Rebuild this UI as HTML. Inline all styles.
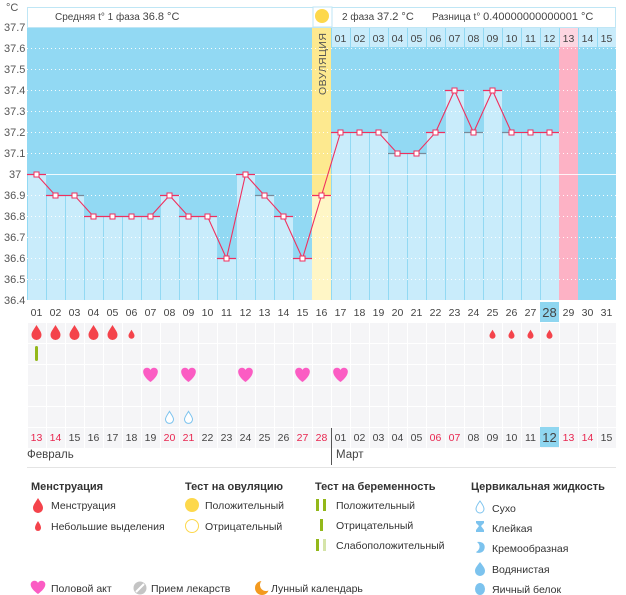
<!DOCTYPE html>
<html><head><meta charset="utf-8"><style>
html,body{margin:0;padding:0;background:#fff;}
svg{display:block;font-family:"Liberation Sans","DejaVu Sans",sans-serif;}
.ax{font-size:11px;fill:#555;}
.d{font-size:10.5px;fill:#444;text-anchor:middle;}
.r{fill:#e8264f;}
.h{font-size:11px;font-weight:bold;fill:#333;}
.l{font-size:10.5px;fill:#333;}
</style></head><body>
<svg id="s" width="626" height="595" viewBox="0 0 626 595" xmlns="http://www.w3.org/2000/svg">
<g id="bg"></g>
<rect x="27.5" y="7.5" width="588" height="20" fill="#fff" stroke="#bfe6f5"/>
<text x="55" y="20" font-size="10" fill="#444">Средняя t° 1 фаза <tspan font-size="11">36.8 °C</tspan></text>
<text x="342" y="20" font-size="10" fill="#444">2 фаза <tspan font-size="11">37.2 °C</tspan></text>
<text x="432" y="20" font-size="10" fill="#444">Разница t° <tspan font-size="11">0.40000000000001 °C</tspan></text>
<rect x="313" y="7" width="19" height="20" fill="#fff" stroke="#bfe6f5"/>
<circle cx="322" cy="16" r="7" fill="#fdd84c"/>
<text class="ax" x="6" y="11">°C</text>
<g class="ax">
<text x="4" y="31">37.7</text><text x="4" y="52">37.6</text><text x="4" y="73">37.5</text><text x="4" y="94">37.4</text><text x="4" y="115">37.3</text><text x="4" y="136">37.2</text><text x="4" y="157">37.1</text><text x="9" y="178">37</text><text x="4" y="199">36.9</text><text x="4" y="220">36.8</text><text x="4" y="241">36.7</text><text x="4" y="262">36.6</text><text x="4" y="283">36.5</text><text x="4" y="304">36.4</text>
</g>
<text transform="translate(326,95) rotate(-90)" font-size="10.5" fill="#555" letter-spacing="0.5">ОВУЛЯЦИЯ</text>
<g class="d">
<text x="340.5" y="42">01</text><text x="359.5" y="42">02</text><text x="378.5" y="42">03</text><text x="397.5" y="42">04</text><text x="416.5" y="42">05</text><text x="435.5" y="42">06</text><text x="454.5" y="42">07</text><text x="473.5" y="42">08</text><text x="492.5" y="42">09</text><text x="511.5" y="42">10</text><text x="530.5" y="42">11</text><text x="549.5" y="42">12</text><text x="568.5" y="42">13</text><text x="587.5" y="42">14</text><text x="606.5" y="42">15</text>
</g>
<g id="fg"></g>
<rect x="540" y="302" width="19" height="20" fill="#8fd6f0"/>
<rect x="540" y="427" width="19" height="20" fill="#8fd6f0"/>
<g class="d">
<text x="36.5" y="316">01</text><text x="55.5" y="316">02</text><text x="74.5" y="316">03</text><text x="93.5" y="316">04</text><text x="112.5" y="316">05</text><text x="131.5" y="316">06</text><text x="150.5" y="316">07</text><text x="169.5" y="316">08</text><text x="188.5" y="316">09</text><text x="207.5" y="316">10</text><text x="226.5" y="316">11</text><text x="245.5" y="316">12</text><text x="264.5" y="316">13</text><text x="283.5" y="316">14</text><text x="302.5" y="316">15</text><text x="321.5" y="316">16</text><text x="340.5" y="316">17</text><text x="359.5" y="316">18</text><text x="378.5" y="316">19</text><text x="397.5" y="316">20</text><text x="416.5" y="316">21</text><text x="435.5" y="316">22</text><text x="454.5" y="316">23</text><text x="473.5" y="316">24</text><text x="492.5" y="316">25</text><text x="511.5" y="316">26</text><text x="530.5" y="316">27</text><text x="549.5" y="317" font-size="13">28</text><text x="568.5" y="316">29</text><text x="587.5" y="316">30</text><text x="606.5" y="316">31</text>
<text class="r" x="36.5" y="441">13</text><text class="r" x="55.5" y="441">14</text><text x="74.5" y="441">15</text><text x="93.5" y="441">16</text><text x="112.5" y="441">17</text><text x="131.5" y="441">18</text><text x="150.5" y="441">19</text><text class="r" x="169.5" y="441">20</text><text class="r" x="188.5" y="441">21</text><text x="207.5" y="441">22</text><text x="226.5" y="441">23</text><text x="245.5" y="441">24</text><text x="264.5" y="441">25</text><text x="283.5" y="441">26</text><text class="r" x="302.5" y="441">27</text><text class="r" x="321.5" y="441">28</text><text x="340.5" y="441">01</text><text x="359.5" y="441">02</text><text x="378.5" y="441">03</text><text x="397.5" y="441">04</text><text x="416.5" y="441">05</text><text class="r" x="435.5" y="441">06</text><text class="r" x="454.5" y="441">07</text><text x="473.5" y="441">08</text><text x="492.5" y="441">09</text><text x="511.5" y="441">10</text><text x="530.5" y="441">11</text><text x="549.5" y="442" font-size="13">12</text><text class="r" x="568.5" y="441">13</text><text class="r" x="587.5" y="441">14</text><text x="606.5" y="441">15</text>
</g>
<line x1="331.5" y1="428" x2="331.5" y2="465" stroke="#555"/>
<line x1="27" y1="467.5" x2="616" y2="467.5" stroke="#e4e4e4"/>
<text x="27" y="458" font-size="11.5" fill="#444">Февраль</text>
<text x="336" y="458" font-size="11.5" fill="#444">Март</text>

<text class="h" x="31" y="490">Менструация</text>
<text class="h" x="185" y="490">Тест на овуляцию</text>
<text class="h" x="315" y="490">Тест на беременность</text>
<text class="h" x="471" y="490">Цервикальная жидкость</text>
<path d="M38,498 C41,503 43,505 43,508 A5,5 0 0 1 33,508 C33,505 35,503 38,498Z" fill="#f4434b"/>
<text class="l" x="51" y="509">Менструация</text>
<path d="M38,521 C40,524 41,526 41,528 A3,3 0 0 1 35,528 C35,526 36,524 38,521Z" fill="#f4434b"/>
<text class="l" x="51" y="530">Небольшие выделения</text>
<circle cx="192" cy="505" r="7" fill="#fdd84c"/>
<text class="l" x="205" y="509">Положительный</text>
<circle cx="192" cy="526" r="6.5" fill="#fff" stroke="#fdd84c"/>
<text class="l" x="205" y="530">Отрицательный</text>
<rect x="316" y="499" width="3" height="12" fill="#93b81a"/><rect x="323" y="499" width="3" height="12" fill="#93b81a"/>
<text class="l" x="336" y="509">Положительный</text>
<rect x="320" y="519" width="3" height="12" fill="#93b81a"/>
<text class="l" x="336" y="529">Отрицательный</text>
<rect x="316" y="539" width="3" height="12" fill="#93b81a"/><rect x="323" y="539" width="3" height="12" fill="#d5e4a9"/>
<text class="l" x="336" y="549">Слабоположительный</text>
<path d="M480,501 C483,505 484,507 484,509 A4,4 0 0 1 476,509 C476,507 477,505 480,501Z" fill="#fff" stroke="#7cc3ee"/>
<text class="l" x="492" y="512">Сухо</text>
<path d="M476,521 L484,521 L484,523 L481,526 L484,530 L484,532 L476,532 L476,530 L479,526 L476,523Z" fill="#7cc3ee"/>
<text class="l" x="492" y="532">Клейкая</text>
<path d="M477,542 C484,541 486,546 484,550 C482,554 476,553 476,552 C480,550 481,545 477,542Z" fill="#7cc3ee"/>
<text class="l" x="492" y="552">Кремообразная</text>
<path d="M480,562 C483,566 485,568 485,571 A5,5 0 0 1 475,571 C475,568 477,566 480,562Z" fill="#7cc3ee"/>
<text class="l" x="492" y="573">Водянистая</text>
<ellipse cx="480" cy="589" rx="5" ry="6" fill="#7cc3ee"/>
<text class="l" x="492" y="593">Яичный белок</text>
<path d="M38,594 C31,589 30,585 31,583 C32,580 37,580 38,583 C39,580 44,580 45,583 C46,585 45,589 38,594Z" fill="#fb5cc3"/>
<text class="l" x="51" y="592">Половой акт</text>
<circle cx="140" cy="588" r="6.5" fill="#c4c4c4"/><line x1="136" y1="592" x2="144" y2="584" stroke="#fff" stroke-width="2"/>
<text class="l" x="151" y="592">Прием лекарств</text>
<circle cx="262" cy="588" r="7" fill="#f39a1f"/>
<circle cx="266" cy="585" r="6" fill="#fff"/>
<text class="l" x="271" y="592">Лунный календарь</text>
</svg>
<script>
var NS="http://www.w3.org/2000/svg";
function el(p,t,a){var e=document.createElementNS(NS,t);for(var k in a)e.setAttribute(k,a[k]);p.appendChild(e);return e;}
var bg=document.getElementById("bg"),fg=document.getElementById("fg");
var T=[37.0,36.9,36.9,36.8,36.8,36.8,36.8,36.9,36.8,36.8,36.6,37.0,36.9,36.8,36.6,36.9,37.2,37.2,37.2,37.1,37.1,37.2,37.4,37.2,37.4,37.2,37.2,37.2];
function Y(t){return 27+(37.7-t)*210;}
function X(d){return 27+(d-1)*19;}
el(bg,"rect",{x:27,y:27,width:589,height:273,fill:"#92d9f3"});
for(var d=17;d<=31;d++){el(bg,"rect",{x:X(d)+1,y:28,width:18,height:19,fill:d==29?"#fdd6e1":"#c9ecfb"});}
for(var d=1;d<=31;d++){
 var x=X(d);
 if(d==16){el(bg,"rect",{x:x,y:27,width:19,height:273,fill:"#fde98f"});el(bg,"rect",{x:x,y:Y(T[15]),width:19,height:300-Y(T[15]),fill:"#fff6c6"});continue;}
 if(d==29){el(bg,"rect",{x:x,y:47,width:19,height:253,fill:"#fdb2c5"});continue;}
 if(d<=28){el(bg,"rect",{x:x+1,y:Y(T[d-1]),width:18,height:300-Y(T[d-1]),fill:"#c9ecfb"});}
}
for(var i=1;i<13;i++){var y=27+i*21; if(i==7)continue;
 el(bg,"line",{x1:27,y1:y+0.5,x2:616,y2:y+0.5,stroke:"#fff","stroke-dasharray":"1 3","stroke-opacity":0.9});}
el(bg,"line",{x1:27,y1:174.5,x2:616,y2:174.5,stroke:"#fff","stroke-opacity":0.85});
el(bg,"line",{x1:313,y1:174.5,x2:332,y2:174.5,stroke:"#fff6c6"});
var pts=T.map(function(t,i){return (X(i+1)+9.5)+","+(Y(t)+0.5)}).join(" ");
var gray={3:1,13:1,18:1,19:1,20:1,21:1,26:1,27:1,24:1};
for(var d=1;d<=28;d++){var y=Y(T[d-1])+0.5;el(fg,"line",{x1:X(d),y1:y,x2:X(d)+19,y2:y,stroke:gray[d]?"#7a8a99":"#f0305f","stroke-width":1.2});}
el(fg,"polyline",{points:pts,fill:"none",stroke:"#f0305f","stroke-width":1.1});
for(var d=1;d<=28;d++){var y=Y(T[d-1]);el(fg,"rect",{x:X(d)+7,y:y-2,width:5,height:5,fill:"#fff",stroke:"#f0305f","stroke-width":1});}
el(fg,"path",{d:"M244,283 A7,7 0 1 0 253,295 A6,6 0 0 1 244,283Z",fill:"#f39a1f"});
for(var r=0;r<6;r++)for(var d=1;d<=31;d++){el(fg,"rect",{x:X(d)+1,y:323+r*21,width:18,height:20,fill:"#f5f5f7"});}
function drop(cx,cy,s,fill,stroke){el(fg,"path",{d:"M"+cx+","+(cy-7*s)+" C"+(cx+3*s)+","+(cy-2*s)+" "+(cx+5*s)+","+cy+" "+(cx+5*s)+","+(cy+3*s)+" A"+(5*s)+","+(5*s)+" 0 0 1 "+(cx-5*s)+","+(cy+3*s)+" C"+(cx-5*s)+","+cy+" "+(cx-3*s)+","+(cy-2*s)+" "+cx+","+(cy-7*s)+"Z",fill:fill,stroke:stroke||"none"});}
[1,2,3,4,5].forEach(function(d){drop(X(d)+9.5,332,1,"#f4434b");});
[6,25,26,27,28].forEach(function(d){drop(X(d)+9.5,334,0.6,"#f4434b");});
el(fg,"rect",{x:35,y:346,width:3,height:15,rx:1.5,fill:"#93b81a"});
[7,9,12,15,17].forEach(function(d){var c=X(d)+9.5;el(fg,"path",{d:"M"+c+",382 C"+(c-7)+",377 "+(c-8)+",372 "+(c-7)+",370 C"+(c-6)+",367 "+(c-1)+",367 "+c+",370 C"+(c+1)+",367 "+(c+6)+",367 "+(c+7)+",370 C"+(c+8)+",372 "+(c+7)+",377 "+c+",382Z",fill:"#fb5cc3"});});
[8,9].forEach(function(d){drop(X(d)+9.5,417,0.8,"#fff","#7cc3ee");});
</script>
</body></html>
